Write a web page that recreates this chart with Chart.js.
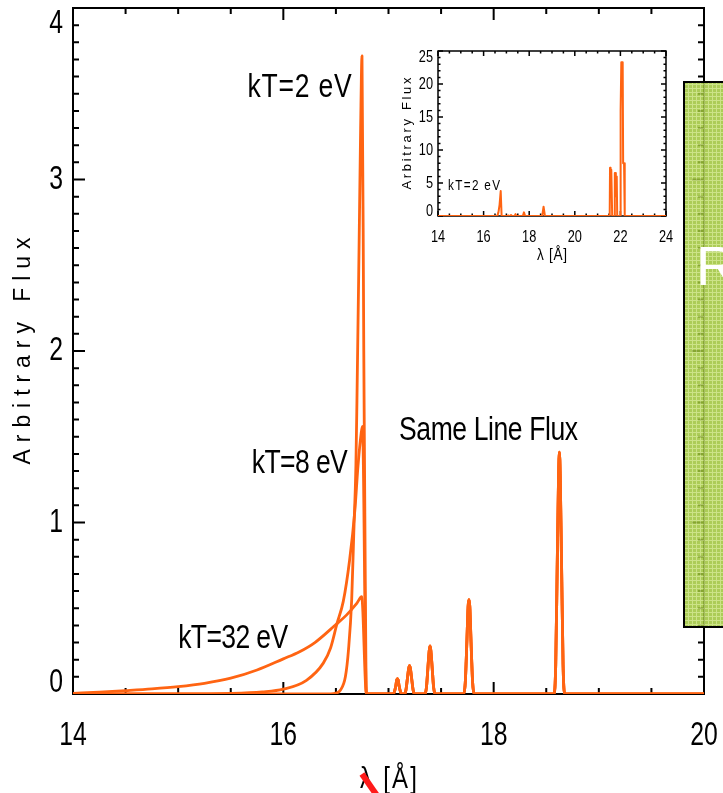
<!DOCTYPE html>
<html>
<head>
<meta charset="utf-8">
<script src="https://cdn.jsdelivr.net/npm/chart.js@4.4.0/dist/chart.umd.min.js"></script>
<style>
  html, body { margin: 0; padding: 0; background: #fff; }
  #wrap { position: relative; width: 723px; height: 793px; overflow: hidden; }
  #main { position: absolute; left: 0; top: 0; }
  #inset { position: absolute; left: 380px; top: 30px; }
</style>
</head>
<body>
<div id="wrap">
  <canvas id="main" width="723" height="793"></canvas>
  <canvas id="inset" width="300" height="240"></canvas>
</div>
<script>
'use strict';

// O VII recombination edge at three temperatures (lambda in A, arbitrary flux)
const rrc2Lam = [14.0, 16.45, 16.50, 16.54, 16.59, 16.62, 16.65, 16.67, 16.69, 16.70, 16.72, 16.735, 16.748, 16.765, 16.78, 16.79];
const rrc2Flux = [0, 0, 0.005, 0.02, 0.10, 0.26, 0.55, 0.94, 1.33, 1.71, 2.6, 3.3, 3.72, 2.0, 0.6, 0];
const rrc8Lam = [14.0, 15.0, 15.5, 15.8, 16.0, 16.22, 16.38, 16.45, 16.51, 16.57, 16.63, 16.68, 16.71, 16.74, 16.752, 16.79];
const rrc8Flux = [0, 0, 0.003, 0.012, 0.028, 0.08, 0.18, 0.27, 0.41, 0.54, 0.78, 1.07, 1.33, 1.52, 1.56, 0];
const rrc32Lam = [14.0, 14.25, 14.5, 14.75, 15.0, 15.25, 15.5, 15.75, 16.0, 16.15, 16.3, 16.5, 16.6, 16.7, 16.745, 16.79];
const rrc32Flux = [0.004, 0.011, 0.02, 0.03, 0.043, 0.062, 0.092, 0.14, 0.205, 0.245, 0.30, 0.405, 0.46, 0.53, 0.567, 0];

// He-like series lines, same flux in every model
const lineLam = [
  17.04, 17.055, 17.07, 17.078, 17.085, 17.092, 17.10, 17.115, 17.13,
  17.15, 17.165, 17.18, 17.192, 17.20, 17.208, 17.22, 17.235, 17.25,
  17.345, 17.36, 17.375, 17.387, 17.395, 17.403, 17.415, 17.43, 17.445,
  17.715, 17.73, 17.745, 17.757, 17.765, 17.773, 17.785, 17.80, 17.815,
  18.575, 18.59, 18.605, 18.617, 18.625, 18.633, 18.645, 18.66, 18.675,
  20.0
];
const lineFlux = [
  0, 0.011, 0.05, 0.081, 0.09, 0.081, 0.05, 0.011, 0,
  0, 0.02, 0.091, 0.149, 0.165, 0.149, 0.091, 0.02, 0,
  0, 0.034, 0.154, 0.252, 0.28, 0.252, 0.154, 0.034, 0,
  0, 0.066, 0.30, 0.51, 0.55, 0.51, 0.30, 0.066, 0,
  0, 0.17, 0.78, 1.27, 1.41, 1.27, 0.78, 0.17, 0,
  0
];

// wide range spectrum, kT = 2 eV
const insetLam = [
  14.0, 16.6, 16.65, 16.70, 16.75, 16.79,
  17.05, 17.09, 17.13, 17.16, 17.2, 17.24, 17.36, 17.4, 17.44,
  17.72, 17.77, 17.82, 18.57, 18.63, 18.69,
  21.53, 21.545, 21.56, 21.58, 21.60, 21.615, 21.64,
  21.73, 21.755, 21.775, 21.80, 21.82, 21.84, 21.86,
  21.99, 22.01, 22.04, 22.10, 22.12, 22.16, 22.19, 24.0
];
const insetFlux = [
  0, 0, 0.55, 1.7, 3.77, 0,
  0, 0.09, 0, 0, 0.165, 0, 0, 0.28, 0,
  0, 0.55, 0, 0, 1.41, 0,
  0, 7.3, 7.3, 3, 7.0, 7.0, 0,
  0, 6.5, 6.5, 3, 6.0, 5.8, 0,
  0, 16, 23.3, 23.3, 8, 8, 0, 0
];

const xTicks = [14, 16, 18, 20];
const yTicks = [0, 1, 2, 3, 4];
const insetXTicks = [14, 16, 18, 20, 22, 24];
const insetYTicks = [0, 5, 10, 15, 20, 25];

const ORANGE = 'rgb(255,100,18)';
const FONT = '"Liberation Sans", Arial, sans-serif';

function points(lam, flux) {
  return lam.map((l, i) => ({ x: l, y: flux[i] }));
}

// text with horizontal squeeze and optional letter spacing to hit a width
function drawText(ctx, str, x, y, o) {
  ctx.save();
  ctx.font = o.size + 'px ' + FONT;
  ctx.fillStyle = o.color || '#000';
  ctx.textAlign = 'left';
  ctx.textBaseline = o.baseline || 'alphabetic';
  let sx = o.sx || 1;
  const w0 = ctx.measureText(str).width;
  let w = w0;
  if (o.width) {
    if ('letterSpacing' in ctx && str.length > 1) {
      const gap = (o.width / sx - w0) / (str.length - 1);
      ctx.letterSpacing = gap + 'px';
      w = w0 + gap * (str.length - 1);
    } else {
      sx = o.width / w0;
    }
  }
  const shift = o.align === 'center' ? 0.5 : o.align === 'right' ? 1 : 0;
  ctx.translate(x, y);
  if (o.rotate) ctx.rotate(o.rotate);
  ctx.scale(sx, 1);
  ctx.fillText(str, -shift * w, 0);
  ctx.restore();
}

// IDL style box: ticks pointing inward on all four sides, labels, titles
function makeFrame(cfg) {
  return {
    id: 'frame',
    beforeDatasetsDraw(chart) {
      const { ctx, chartArea: a, scales: { x, y } } = chart;
      ctx.save();
      ctx.strokeStyle = '#000';
      ctx.lineWidth = cfg.lineWidth;
      ctx.strokeRect(a.left, a.top, a.right - a.left, a.bottom - a.top);
      ctx.beginPath();
      const nx = Math.round((x.max - x.min) / cfg.xMinor);
      for (let i = 0; i <= nx; i++) {
        const v = x.min + i * cfg.xMinor;
        const major = Math.abs(v / cfg.xMajor - Math.round(v / cfg.xMajor)) < 1e-6;
        const len = major ? cfg.majorLen : cfg.minorLen;
        const px = x.getPixelForValue(v);
        ctx.moveTo(px, a.bottom); ctx.lineTo(px, a.bottom - len);
        ctx.moveTo(px, a.top); ctx.lineTo(px, a.top + len);
      }
      const ny = Math.round((y.max - y.min) / cfg.yMinor);
      for (let i = 0; i <= ny; i++) {
        const v = y.min + i * cfg.yMinor;
        const major = Math.abs(v / cfg.yMajor - Math.round(v / cfg.yMajor)) < 1e-6;
        const len = major ? cfg.majorLen : cfg.minorLen;
        const py = y.getPixelForValue(v);
        ctx.moveTo(a.left, py); ctx.lineTo(a.left + len, py);
        ctx.moveTo(a.right, py); ctx.lineTo(a.right - len, py);
      }
      ctx.stroke();
      ctx.restore();
    },
    afterDraw(chart) {
      const { ctx, chartArea: a, scales: { x, y } } = chart;
      const num = { size: cfg.numSize, sx: 0.75 };
      cfg.xTicks.forEach(v => {
        drawText(ctx, String(v), x.getPixelForValue(v), a.bottom + cfg.xLabelGap, { ...num, align: 'center' });
      });
      cfg.yTicks.forEach(v => {
        let py = y.getPixelForValue(v);
        py = Math.min(Math.max(py, a.top + cfg.yEndInset[0]), a.bottom - cfg.yEndInset[1]);
        drawText(ctx, String(v), a.left - cfg.yLabelGap, py, { ...num, align: 'right', baseline: 'middle' });
      });
      const t = cfg.yTitle;
      drawText(ctx, t.text, a.left - t.offset, (a.top + a.bottom) / 2,
        { size: t.size, width: t.width, align: 'center', baseline: 'middle', rotate: -Math.PI / 2 });
      const xt = cfg.xTitle;
      drawText(ctx, xt.text, (a.left + a.right) / 2, a.bottom + xt.offset,
        { size: xt.size, width: xt.width, sx: 0.8, align: 'center' });
      (cfg.notes || []).forEach(n => {
        drawText(ctx, n.text, x.getPixelForValue(n.x), y.getPixelForValue(n.y),
          { size: n.size, width: n.width, sx: 0.78 });
      });
      if (cfg.extra) cfg.extra(chart);
    }
  };
}

function chartOptions(xmin, xmax, ymin, ymax, padding) {
  return {
    responsive: false,
    animation: false,
    devicePixelRatio: 1,
    layout: { padding },
    plugins: { legend: { display: false }, tooltip: { enabled: false } },
    elements: { point: { radius: 0 }, line: { tension: 0 } },
    scales: {
      x: { type: 'linear', min: xmin, max: xmax, display: false },
      y: { type: 'linear', min: ymin, max: ymax, display: false }
    }
  };
}

function curve(lam, flux, width, smooth) {
  return {
    data: points(lam, flux),
    showLine: true,
    borderColor: ORANGE,
    backgroundColor: ORANGE,
    borderWidth: width,
    borderJoinStyle: 'round',
    cubicInterpolationMode: smooth ? 'monotone' : 'default',
    pointRadius: 0
  };
}

// slide overlay: green panel on the right edge and the red pointer
function slideDecor(chart) {
  const ctx = chart.ctx;
  ctx.save();
  const tile = document.createElement('canvas');
  tile.width = 4; tile.height = 4;
  const g = tile.getContext('2d');
  g.fillStyle = '#9ec43a'; g.fillRect(0, 0, 4, 4);
  g.fillStyle = '#c3de74'; g.fillRect(0, 0, 4, 1); g.fillRect(0, 0, 1, 4);
  ctx.globalAlpha = 0.85;
  ctx.fillStyle = ctx.createPattern(tile, 'repeat');
  ctx.fillRect(684, 82, 45, 545);
  ctx.globalAlpha = 1;
  ctx.strokeStyle = '#000';
  ctx.lineWidth = 2;
  ctx.strokeRect(684, 82, 45, 545);
  ctx.fillStyle = '#fff';
  ctx.font = '56px ' + FONT;
  ctx.fillText('R', 696, 285);
  ctx.strokeStyle = '#ff1a1a';
  ctx.lineWidth = 6;
  ctx.beginPath();
  ctx.moveTo(362, 774); ctx.lineTo(378, 797);
  ctx.stroke();
  ctx.restore();
}

const mainCurves = [
  [rrc2Lam, rrc2Flux],
  [rrc8Lam, rrc8Flux],
  [rrc32Lam, rrc32Flux]
].map(([l, f]) => curve(l.concat(lineLam), f.concat(lineFlux), 2.8, true));

new Chart(document.getElementById('main'), {
  type: 'scatter',
  data: { datasets: mainCurves },
  options: chartOptions(14, 20, 0, 4, { left: 73, right: 19, top: 8, bottom: 99 }),
  plugins: [makeFrame({
    lineWidth: 2, majorLen: 12, minorLen: 6,
    xMinor: 0.5, xMajor: 2, yMinor: 0.1, yMajor: 1,
    xTicks, yTicks, numSize: 33, xLabelGap: 51, yLabelGap: 10, yEndInset: [16, 11],
    yTitle: { text: 'Arbitrary Flux', size: 23, width: 227, offset: 49 },
    xTitle: { text: 'λ [Å]', size: 30, width: 57, offset: 94 },
    notes: [
      { text: 'kT=2 eV', x: 15.66, y: 3.48, size: 34, width: 104 },
      { text: 'kT=8 eV', x: 15.70, y: 1.29, size: 34, width: 96 },
      { text: 'kT=32 eV', x: 15.00, y: 0.268, size: 34, width: 110 },
      { text: 'Same Line Flux', x: 17.10, y: 1.48, size: 34, width: 179 }
    ],
    extra: slideDecor
  })]
});

new Chart(document.getElementById('inset'), {
  type: 'scatter',
  data: { datasets: [curve(insetLam, insetFlux, 2, false)] },
  options: chartOptions(14, 24, 0, 25, { left: 58, right: 14, top: 21, bottom: 54 }),
  plugins: [makeFrame({
    lineWidth: 1.5, majorLen: 5, minorLen: 2.5,
    xMinor: 0.5, xMajor: 2, yMinor: 1, yMajor: 5,
    xTicks: insetXTicks, yTicks: insetYTicks, numSize: 17, xLabelGap: 26, yLabelGap: 5, yEndInset: [6, 5],
    yTitle: { text: 'Arbitrary Flux', size: 13, width: 112, offset: 31 },
    xTitle: { text: 'λ [Å]', size: 17, width: 30, offset: 44 },
    notes: [
      { text: 'kT=2 eV', x: 14.44, y: 4.0, size: 15, width: 52 }
    ]
  })]
});
</script>
</body>
</html>
